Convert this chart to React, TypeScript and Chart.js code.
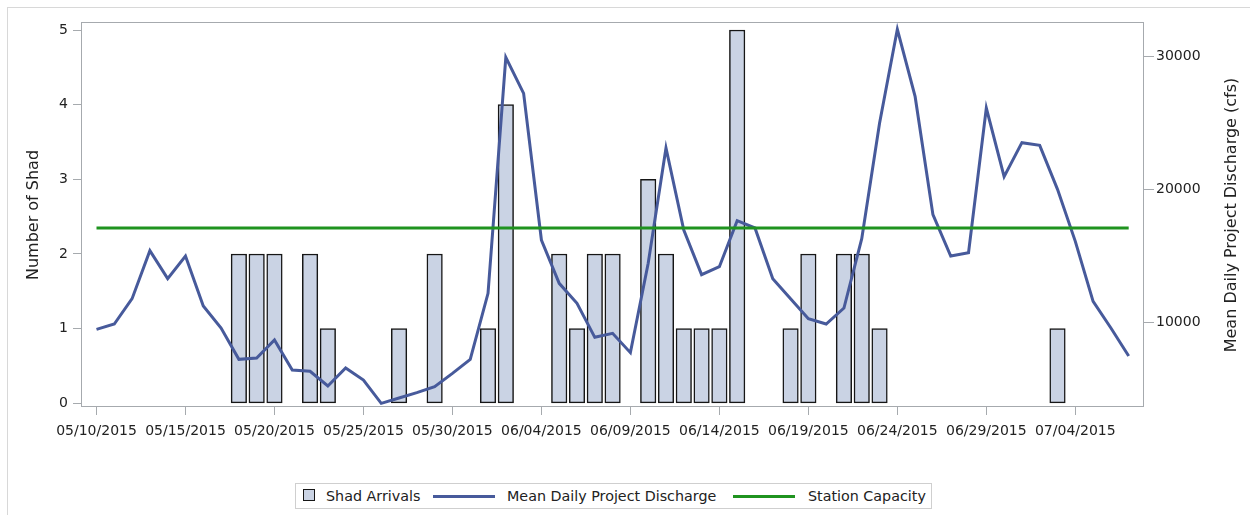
import React, { useEffect, useRef } from 'react';
import { Chart, registerables } from 'chart.js';

Chart.register(...registerables);

// ---------- data ----------
const START_DATE = '05/10/2015';

const xTickLabels = [
  '05/10/2015', '05/15/2015', '05/20/2015', '05/25/2015', '05/30/2015', '06/04/2015',
  '06/09/2015', '06/14/2015', '06/19/2015', '06/24/2015', '06/29/2015', '07/04/2015',
];
const leftTicks = [0, 1, 2, 3, 4, 5];
const rightTicks = [10000, 20000, 30000];

const arrivalDates = [
  '05/18/2015', '05/19/2015', '05/20/2015', '05/22/2015', '05/23/2015', '05/27/2015',
  '05/29/2015', '06/01/2015', '06/02/2015', '06/05/2015', '06/06/2015', '06/07/2015',
  '06/08/2015', '06/10/2015', '06/11/2015', '06/12/2015', '06/13/2015', '06/14/2015',
  '06/15/2015', '06/18/2015', '06/19/2015', '06/21/2015', '06/22/2015', '06/23/2015',
  '07/03/2015',
];
const arrivalCounts = [
  2, 2, 2, 2, 1, 1,
  2, 1, 4, 2, 1, 2,
  2, 3, 2, 1, 1, 1,
  5, 1, 2, 2, 2, 1,
  1,
];

// daily mean discharge (cfs), one value per day starting 05/10/2015 through 07/07/2015
const discharge = [
  9500, 9900, 11800, 15400, 13300, 15000, 11250, 9600, 7250, 7350,
  8700, 6450, 6350, 5250, 6600, 5700, 3950, 4350, 4750, 5200,
  6200, 7250, 12200, 29900, 27200, 16200, 12950, 11450, 8900, 9200,
  7750, 14450, 23100, 16950, 13600, 14200, 17650, 17100, 13300, 11800,
  10300, 9900, 11100, 16300, 24950, 32000, 26950, 18100, 15000, 15250,
  26100, 20950, 23500, 23300, 20000, 16100, 11600, 9600, 7500,
];

const capacity = 17100;
const capacitySpan = ['05/10/2015', '07/07/2015'];

// ---------- styles ----------
const BAR_FILL = '#cad3e4';
const BAR_EDGE = '#161616';
const BLUE = '#475a9b';
const GREEN = '#1f931f';
const FRAME = '#a6aaae';
const TEXT = '#222222';
const FONT = '"DejaVu Sans", sans-serif';

const parseDate = (s: string) => {
  const [m, d, y] = s.split('/').map(Number);
  return Date.UTC(y, m - 1, d);
};
const dayOf = (s: string) => Math.round((parseDate(s) - parseDate(START_DATE)) / 86400000);

const xTickDays = xTickLabels.map(dayOf);

export default function App() {
  const canvasRef = useRef<HTMLCanvasElement | null>(null);

  useEffect(() => {
    const canvas = canvasRef.current;
    if (!canvas) return;

    const framePlugin = {
      id: 'frameAndTitles',
      afterDraw(chart: any) {
        const { ctx, chartArea } = chart;
        const { left, top, right, bottom } = chartArea;
        ctx.save();
        ctx.strokeStyle = FRAME;
        ctx.lineWidth = 1;
        ctx.strokeRect(left - 0.5, top - 0.5, right - left, bottom - top);

        ctx.fillStyle = TEXT;
        ctx.font = `16px ${FONT}`;
        ctx.textAlign = 'center';
        ctx.textBaseline = 'alphabetic';
        const cy = (top + bottom) / 2;
        ctx.save();
        ctx.translate(37.5, cy);
        ctx.rotate(-Math.PI / 2);
        ctx.fillText('Number of Shad', 0, 0);
        ctx.restore();
        ctx.save();
        ctx.translate(1235.5, cy);
        ctx.rotate(-Math.PI / 2);
        ctx.fillText('Mean Daily Project Discharge (cfs)', 0, 0);
        ctx.restore();
        ctx.restore();
      },
    };

    const tickFont = { family: FONT, size: 14 };

    const chart = new Chart(canvas, {
      data: {
        datasets: [
          {
            type: 'line',
            label: 'Station Capacity',
            data: capacitySpan.map((d) => ({ x: dayOf(d), y: capacity })),
            yAxisID: 'y2',
            borderColor: GREEN,
            borderWidth: 3,
            pointRadius: 0,
            order: 0,
          },
          {
            type: 'line',
            label: 'Mean Daily Project Discharge',
            data: discharge.map((v, i) => ({ x: i, y: v })),
            yAxisID: 'y2',
            borderColor: BLUE,
            borderWidth: 3,
            pointRadius: 0,
            tension: 0,
            order: 1,
          },
          {
            type: 'bar',
            label: 'Shad Arrivals',
            data: arrivalDates.map((d, i) => ({ x: dayOf(d), y: arrivalCounts[i] })),
            yAxisID: 'y',
            backgroundColor: BAR_FILL,
            borderColor: BAR_EDGE,
            borderWidth: 1.5,
            borderSkipped: false,
            barThickness: 15.5,
            order: 2,
          },
        ] as any,
      },
      options: {
        animation: false,
        responsive: false,
        maintainAspectRatio: false,
        layout: { padding: { left: 0, top: 23, right: 0, bottom: 0 } },
        plugins: {
          legend: { display: false },
          tooltip: { enabled: false },
        },
        scales: {
          x: {
            type: 'linear',
            offset: false,
            min: -0.815,
            max: 58.86,
            afterBuildTicks: (s: any) => {
              s.ticks = xTickDays.map((v) => ({ value: v }));
            },
            afterFit: (s: any) => {
              s.height = 108;
            },
            ticks: {
              autoSkip: false,
              maxRotation: 0,
              minRotation: 0,
              padding: 8,
              color: TEXT,
              font: tickFont,
              callback: (_v: any, i: number) => xTickLabels[i],
            },
            grid: { offset: false, drawOnChartArea: false, tickLength: 8, color: FRAME },
            border: { display: false },
          },
          y: {
            type: 'linear',
            position: 'left',
            min: -0.0496,
            max: 5.094,
            afterBuildTicks: (s: any) => {
              s.ticks = leftTicks.map((v) => ({ value: v }));
            },
            afterFit: (s: any) => {
              s.width = 82;
            },
            ticks: { padding: 5, color: TEXT, font: tickFont },
            grid: { drawOnChartArea: false, tickLength: 9, color: FRAME },
            border: { display: false },
          },
          y2: {
            type: 'linear',
            position: 'right',
            min: 3675,
            max: 32475,
            afterBuildTicks: (s: any) => {
              s.ticks = rightTicks.map((v) => ({ value: v }));
            },
            afterFit: (s: any) => {
              s.width = 106;
            },
            ticks: { padding: 2, color: TEXT, font: tickFont, callback: (v: any) => String(v) },
            grid: { drawOnChartArea: false, tickLength: 10, color: FRAME },
            border: { display: false },
          },
        },
      } as any,
      plugins: [framePlugin],
    });

    return () => chart.destroy();
  }, []);

  const abs = (left: number, extra: React.CSSProperties = {}): React.CSSProperties => ({
    position: 'absolute',
    left,
    ...extra,
  });
  const textStyle = (left: number) => abs(left, { top: 0, lineHeight: '24px' });
  const lineStyle = (left: number, color: string) =>
    abs(left, { top: 10.5, width: 62, height: 3, background: color });

  return (
    <div style={{ position: 'fixed', left: 0, top: 0, width: 1250, height: 515, overflow: 'hidden', background: '#ffffff' }}>
      <div
        style={{
          position: 'absolute',
          left: 7,
          top: 7,
          width: 1400,
          height: 700,
          boxSizing: 'border-box',
          border: '1px solid #d8d8d8',
        }}
      />
      <canvas ref={canvasRef} width={1250} height={515} style={{ position: 'absolute', left: 0, top: 0, width: 1250, height: 515 }} />
      <div
        style={{
          position: 'absolute',
          left: 295,
          top: 483,
          width: 637,
          height: 26,
          boxSizing: 'border-box',
          border: '1px solid #cfcfcf',
          background: '#ffffff',
          fontFamily: FONT,
          fontSize: 14.3,
          color: TEXT,
          whiteSpace: 'nowrap',
        }}
      >
        <span
          style={abs(7, {
            top: 5,
            width: 12,
            height: 12,
            boxSizing: 'border-box',
            border: `1.5px solid ${BAR_EDGE}`,
            background: BAR_FILL,
          })}
        />
        <span style={textStyle(30)}>Shad Arrivals</span>
        <span style={lineStyle(137, BLUE)} />
        <span style={textStyle(211)}>Mean Daily Project Discharge</span>
        <span style={lineStyle(437, GREEN)} />
        <span style={textStyle(512)}>Station Capacity</span>
      </div>
    </div>
  );
}
